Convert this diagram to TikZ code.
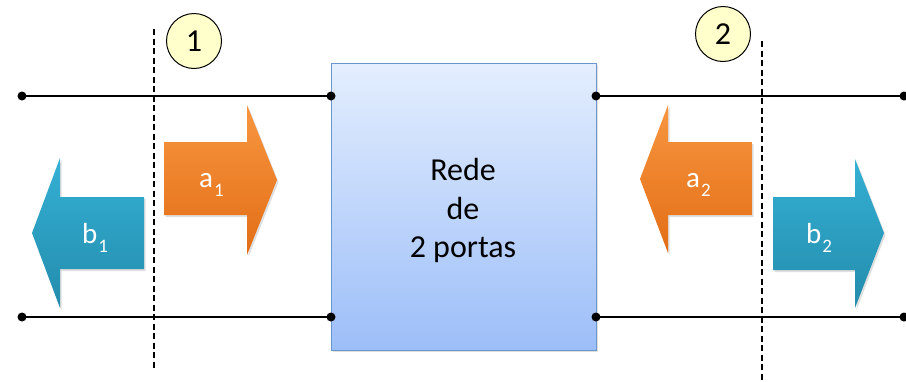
\documentclass[tikz,border=0pt]{standalone}
\usepackage{fontspec}
\setmainfont{Carlito}
\usetikzlibrary{shadows}
\definecolor{orangeT}{RGB}{248,150,64}
\definecolor{orangeB}{RGB}{226,110,22}
\definecolor{blueT}{RGB}{52,176,212}
\definecolor{blueB}{RGB}{36,140,172}
\definecolor{boxT}{RGB}{228,238,254}
\definecolor{boxB}{RGB}{156,190,248}
\definecolor{boxE}{RGB}{108,150,206}
\definecolor{tagF}{RGB}{255,255,204}
\newcommand\lbl[2]{#1\kern1pt\raisebox{-9pt}{\fontsize{19}{19}\selectfont #2}}
\begin{document}
\begin{tikzpicture}[x=1pt,y=-1pt,
  wire/.style={line width=1.6pt},
  cut/.style={line width=1.2pt,dash pattern=on 6pt off 3.5pt},
  dot/.style={circle,fill=black,inner sep=0pt,minimum size=9pt},
  sh/.style={drop shadow={opacity=0.25,shadow xshift=1.5pt,shadow yshift=-2pt}},
  orangearrow/.style={top color=orangeT,bottom color=orangeB,sh},
  bluearrow/.style={top color=blueT,bottom color=blueB,sh},
  netbox/.style={draw=boxE,line width=1pt,top color=boxT,bottom color=boxB,sh,
    minimum width=265pt,minimum height=287pt,inner sep=0pt},
  tag/.style={circle,draw=black,line width=1pt,fill=tagF,minimum size=55pt,
    inner sep=0pt,font=\fontsize{32}{32}\selectfont},
  wlabel/.style={text=white,font=\fontsize{29}{29}\selectfont,inner sep=0pt,anchor=base west}
]
\useasboundingbox (0,0) rectangle (906,381);

% network box
\node[netbox] (net) at (463.5,206.5) {};
\node[align=center,font=\fontsize{32}{38.5}\selectfont,anchor=base] (nettext) at (463,257.5)
  {Rede\\de\\2 portas};

% coordinates
\coordinate (L1) at (22,96);
\coordinate (L2) at (22,317);
\coordinate (P1t) at (331,96);
\coordinate (P1b) at (331,317);
\coordinate (P2t) at (596,96);
\coordinate (P2b) at (596,317);
\coordinate (R1) at (904,96);
\coordinate (R2) at (904,317);

\draw[wire] (L1) -- (P1t);
\draw[wire] (L2) -- (P1b);
\draw[wire] (P2t) -- (R1);
\draw[wire] (P2b) -- (R2);

\foreach \p in {L1,L2,P1t,P1b,P2t,P2b,R1,R2}
  \node[dot] (d\p) at (\p) {};

% reference planes
\coordinate (C1a) at (154,29);
\coordinate (C1b) at (154,371);
\coordinate (C2a) at (762,41);
\coordinate (C2b) at (762,381);
\draw[cut] (C1a) -- (C1b);
\draw[cut] (C2a) -- (C2b);

% port tags
\node[tag] (t1) at (194,41) {1};
\node[tag] (t2) at (723,34) {2};

% wave arrows
\path[orangearrow] (164,142) -- (247,142) -- (247,105) -- (277,180) -- (247,255)
  -- (247,215) -- (164,215) -- cycle;
\path[bluearrow] (144,197) -- (60,197) -- (60,158) -- (32,233) -- (60,308)
  -- (60,269) -- (144,269) -- cycle;
\path[orangearrow] (752,142) -- (668,142) -- (668,105) -- (640,179) -- (668,253)
  -- (668,215) -- (752,215) -- cycle;
\path[bluearrow] (773,197) -- (855,197) -- (855,159) -- (884,233) -- (855,308)
  -- (855,270) -- (773,270) -- cycle;

\node[wlabel] (a1) at (199,187) {\lbl{a}{1}};
\node[wlabel] (b1) at (82,243) {\lbl{b}{1}};
\node[wlabel] (a2) at (686,187) {\lbl{a}{2}};
\node[wlabel] (b2) at (806,243) {\lbl{b}{2}};
\end{tikzpicture}
\end{document}
